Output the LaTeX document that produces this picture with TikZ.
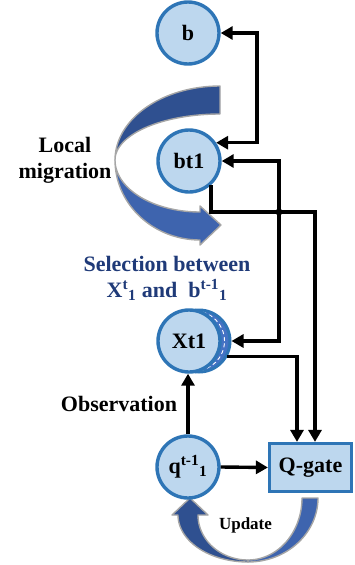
\documentclass[tikz,border=0pt]{standalone}
\usepackage{fontspec}
\setmainfont{Liberation Serif}
\usetikzlibrary{arrows.meta}
\definecolor{cfill}{HTML}{BDD7EE}
\definecolor{cedge}{HTML}{2E75B6}
\definecolor{bdark}{HTML}{2F5090}
\definecolor{blight}{HTML}{3E64AE}
\definecolor{bedge}{HTML}{A6A6A6}
\definecolor{seltext}{HTML}{1F3A78}
\definecolor{stackblue}{HTML}{4472C4}
\begin{document}
\begin{tikzpicture}[x=1pt,y=-1pt,
  >={Triangle[length=12pt,width=13pt]},
  txt/.style={font=\fontsize{22}{26}\selectfont\bfseries},
  state/.style={circle,draw=cedge,fill=cfill,line width=3.4pt,minimum size=62pt,inner sep=0pt,txt},
  gate/.style={rectangle,draw=cedge,fill=cfill,line width=3.2pt,minimum width=82pt,minimum height=48pt,txt},
  link/.style={line width=3.4pt,black},
  band/.style={draw=bedge,line width=1.4pt,line join=round}]
\useasboundingbox (0,0) rectangle (354,565);

% local migration arrow: dark upper half, light lower half with head
\path[band,fill=bdark]
  plot[domain=270:180,samples=40,variable=\t] ({220+105*cos(\t)},{160+74*sin(\t)})
  -- plot[domain=180:270,samples=40,variable=\t] ({220+105*cos(\t)},{160+46*sin(\t)})
  -- cycle;
\path[band,fill=blight]
  plot[domain=180:90,samples=40,variable=\t] ({200+85*cos(\t)},{160+80*sin(\t)})
  -- (200,245) -- (221,225) -- (200,206) -- (200,212)
  -- plot[domain=90:180,samples=40,variable=\t] ({200+85*cos(\t)},{160+52*sin(\t)})
  -- cycle;

% update arrow below the gate
\path[band,fill=blight]
  plot[domain=0:90,samples=40,variable=\t] ({248+70*cos(\t)},{498+64*sin(\t)})
  -- plot[domain=90:0,samples=40,variable=\t] ({248+54*cos(\t)},{498+62*sin(\t)})
  -- cycle;
\path[band,fill=bdark]
  plot[domain=90:180,samples=40,variable=\t] ({248+70*cos(\t)},{515+47*sin(\t)})
  -- (172,515) -- (190,498) -- (208,515) -- (198,515)
  -- plot[domain=180:90,samples=40,variable=\t] ({248+50*cos(\t)},{515+45*sin(\t)})
  -- cycle;

% states
\node[state] (b) at (188,33) {b};
\node[state] (bt1) at (189,161) {bt1};
\node[circle,draw=cedge,fill=stackblue,line width=3pt,minimum size=62pt,inner sep=0pt] (xs) at (199,341) {};
\draw[white,line width=0.9pt,dash pattern=on 4pt off 3pt] (194.5,341) circle[radius=30pt];
\node[state] (xt1) at (189,341) {Xt1};
\node[state] (q) at (188,467) {q\textsuperscript{t-1}\textsubscript{1}};
\node[gate] (qg) at (310.5,467.5) {Q-gate};

% routing points
\coordinate (r1) at (257,33);
\coordinate (r2) at (279,161);
\coordinate (j) at (279,212);
\coordinate (k) at (315,212);
\coordinate (r4) at (297,357);

% connectors
\draw[link,<->] (b.east) -| (r1 |- bt1.34) -- (bt1.34);
\draw[link,<->] (bt1.east) -| (r2 |- xs.east) -- (xs.east);
\draw[link,->] (bt1.-48) |- (k) -- (k |- qg.north);
\fill (j) circle[radius=3.5pt];
\draw[link,->] (xs.-29) -| (r4 |- qg.north);
\draw[link,->] (q.north) -- (q.north |- xt1.south);
\draw[link,->] (q.east) -- (qg.west);

% labels
\node[txt,align=center,inner sep=0pt] (lm) at (65,160.5) {Local\\migration};
\node[txt,text=seltext,anchor=base,inner sep=0pt] (s1) at (167,271) {Selection between};
\node[txt,text=seltext,anchor=base,inner sep=0pt] (s2) at (167,297) {X\textsuperscript{t}\textsubscript{1} and\ \ b\textsuperscript{t-1}\textsubscript{1}};
\node[txt,anchor=base,inner sep=0pt] (obs) at (119,411) {Observation};
\node[font=\fontsize{17}{20}\selectfont\bfseries,anchor=base,inner sep=0pt] (up) at (245.5,529) {Update};
\end{tikzpicture}
\end{document}
